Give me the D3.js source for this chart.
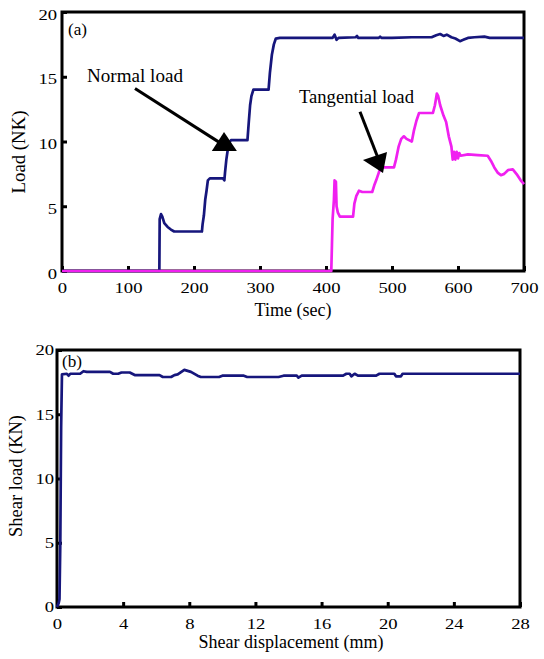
<!DOCTYPE html>
<html><head><meta charset="utf-8">
<script src="https://cdn.jsdelivr.net/npm/d3@7"></script>
<style>
body{margin:0;background:#fff;}
text{font-family:"Liberation Serif","Times New Roman",serif;fill:#000;}
</style></head>
<body><svg id="c" width="544" height="659"></svg>
<script>
// ---- data ----
const normalT = [0,147.5,148,150,152,155,160,165,170,212,213,215,217,219,221,224,244,246,247,249,251,253,256,281,283,285,287,290,313,315,318,321,324,330,410,413,416,419,445,447,449,480,482,484,500,530,560,567,573,578,583,590,596,603,608,615,625,640,648,700];
const normalV = [0,0,4.0,4.4,4.2,3.7,3.4,3.2,3.05,3.05,3.6,4.3,5.5,6.2,7.0,7.15,7.15,7.0,7.6,8.6,9.3,9.9,10.1,10.1,11.5,12.8,13.5,14.0,14.0,15.3,16.7,17.5,17.95,18.0,18.0,18.25,17.85,18.0,18.05,18.15,18.0,18.0,18.1,18.0,18.0,18.05,18.05,18.2,18.3,18.15,18.25,18.05,17.95,17.75,17.85,18.0,18.05,18.1,18.0,18.0];
const tangT = [0,408,409,410,412,413,415,416,418,421,441,443,446,448,450,455,470,473,476,480,483,490,503,506,510,514,518,522,530,533,537,541,550,562,565,568,570,573,578,582,586,590,592,594,596,598,600,602,604,615,630,645,650,655,660,665,670,676,683,690,695,700];
const tangV = [0,0,2,4.0,5.5,7.0,6.9,5.0,4.5,4.2,4.2,5.2,5.8,6.0,6.2,6.1,6.1,6.6,7.0,7.6,8.0,8.0,8.0,8.6,9.6,10.2,10.4,10.2,10.0,10.8,11.6,12.2,12.2,12.2,12.8,13.7,13.5,12.8,12.0,11.5,10.4,9.6,8.6,9.2,8.6,9.2,8.7,9.1,8.9,9.0,8.95,8.9,8.5,8.0,7.6,7.4,7.5,7.8,7.85,7.4,7.0,6.7];
const dispX = [0,0.1,0.15,0.2,0.25,0.3,0.6,0.7,0.8,1.4,1.6,1.8,3.2,3.4,3.7,3.9,4.4,4.7,6.2,6.4,6.9,7.1,7.3,7.7,8.1,8.5,8.7,9.8,10.0,11.3,11.5,13.4,13.7,14.5,14.6,14.8,17.3,17.5,17.7,17.8,18.0,18.2,19.3,19.5,20.4,20.5,20.8,20.9,28];
const shearV = [0,0.3,0.6,5,14,18.1,18.15,18.0,18.15,18.15,18.35,18.3,18.3,18.15,18.15,18.25,18.25,18.05,18.05,17.9,17.9,18.05,18.1,18.45,18.3,18.0,17.9,17.9,18.0,18.0,17.9,17.9,18.0,18.0,17.85,18.0,18.0,18.15,18.15,17.95,18.15,18.0,18.0,18.15,18.15,17.95,17.95,18.15,18.15];
const timeTicks = [0,100,200,300,400,500,600,700];
const loadTicks = [0,5,10,15,20];
const dispTicks = [0,4,8,12,16,20,24,28];
// annotation anchors (data coordinates)
const normalArrowLine = [[110.6,14.1],[245.5,9.7]];
const normalArrowHead = [[227,9.27],[265,9.27],[245.5,10.73]];
const tangArrowLine = [[451.5,12.3],[478.8,8.73]];
const tangArrowHead = [[456,8.57],[492.4,9.19],[486.4,7.57]];

const svg = d3.select("#c");
const NAVY = "#16167c", MAG = "#f020f0";

function stretch(sel, f){
  sel.each(function(){
    const L = this.getComputedTextLength();
    d3.select(this).attr("textLength", L*f).attr("lengthAdjust","spacingAndGlyphs");
  });
}

function panel(o){
  const g = svg.append("g").attr("transform",`translate(${o.left},${o.top})`);
  const x = d3.scaleLinear().domain(o.xd).range([0,o.w]);
  const y = d3.scaleLinear().domain([0,20]).range([o.h,0]);
  const xa = g.append("g").attr("transform",`translate(0,${o.h})`)
    .call(d3.axisBottom(x).tickValues(o.xticks).tickSizeInner(-5).tickSizeOuter(0).tickPadding(o.xpad));
  const ya = g.append("g")
    .call(d3.axisLeft(y).tickValues(loadTicks).tickSizeInner(-5).tickSizeOuter(0).tickPadding(o.ypad));
  ya.selectAll("text").attr("dy",o.ydy);
  [xa,ya].forEach(a=>{
    a.select(".domain").remove();
    a.selectAll("line").attr("stroke","#000").attr("stroke-width",3);
    a.selectAll("text").attr("font-size",14).attr("font-family",'"Liberation Serif",serif');
    stretch(a.selectAll("text"),1.33);
  });
  g.append("rect").attr("width",o.w).attr("height",o.h).attr("fill","none").attr("stroke","#000").attr("stroke-width",3);
  return {g,x,y};
}

// ---- panel (a) ----
const A = panel({left:62,top:12,w:462,h:259,xd:[0,700],xticks:timeTicks,xpad:12,ypad:5,ydy:"0.5em"});
const lineA = d3.line().x(d=>A.x(d[0])).y(d=>A.y(d[1]));
A.g.append("path").datum(normalT.map((t,i)=>[t,normalV[i]])).attr("d",lineA)
  .attr("fill","none").attr("stroke",NAVY).attr("stroke-width",2.7).attr("stroke-linejoin","round");
A.g.append("path").datum(tangT.map((t,i)=>[t,tangV[i]])).attr("d",lineA)
  .attr("fill","none").attr("stroke",MAG).attr("stroke-width",2.7).attr("stroke-linejoin","round");
A.g.append("path").datum(normalArrowLine).attr("d",lineA).attr("stroke","#000").attr("stroke-width",3);
A.g.append("path").datum(normalArrowHead).attr("d",d=>lineA(d)+"Z").attr("fill","#000");
A.g.append("path").datum(tangArrowLine).attr("d",lineA).attr("stroke","#000").attr("stroke-width",3);
A.g.append("path").datum(tangArrowHead).attr("d",d=>lineA(d)+"Z").attr("fill","#000");
A.g.append("text").attr("x",A.x(37.9)).attr("y",A.y(14.6)).attr("font-size",18)
  .attr("textLength",96).attr("lengthAdjust","spacingAndGlyphs").text("Normal load");
A.g.append("text").attr("x",A.x(359)).attr("y",A.y(13.0)).attr("font-size",18)
  .attr("textLength",115).attr("lengthAdjust","spacingAndGlyphs").text("Tangential load");
A.g.append("text").attr("x",6).attr("y",23).attr("font-size",17)
  .attr("textLength",19).attr("lengthAdjust","spacingAndGlyphs").text("(a)");
svg.append("text").attr("x",293).attr("y",316).attr("text-anchor","middle").attr("font-size",18)
  .attr("textLength",77).attr("lengthAdjust","spacingAndGlyphs").text("Time (sec)");
svg.append("text").attr("transform","translate(25,152) rotate(-90)").attr("text-anchor","middle").attr("font-size",18)
  .attr("textLength",83).attr("lengthAdjust","spacingAndGlyphs").text("Load (NK)");

// ---- panel (b) ----
const B = panel({left:57,top:350,w:463,h:257,xd:[0,28],xticks:dispTicks,xpad:12,ypad:3,ydy:"0.35em"});
const lineB = d3.line().x(d=>B.x(d[0])).y(d=>B.y(d[1]));
B.g.append("path").datum(dispX.map((t,i)=>[t,shearV[i]])).attr("d",lineB)
  .attr("fill","none").attr("stroke",NAVY).attr("stroke-width",2.7).attr("stroke-linejoin","round");
B.g.append("text").attr("x",5).attr("y",17).attr("font-size",17)
  .attr("textLength",20).attr("lengthAdjust","spacingAndGlyphs").text("(b)");
svg.append("text").attr("x",291).attr("y",648).attr("text-anchor","middle").attr("font-size",18)
  .attr("textLength",185).attr("lengthAdjust","spacingAndGlyphs").text("Shear displacement (mm)");
svg.append("text").attr("transform","translate(22,476) rotate(-90)").attr("text-anchor","middle").attr("font-size",18)
  .attr("textLength",122).attr("lengthAdjust","spacingAndGlyphs").text("Shear load (KN)");
</script></body></html>
